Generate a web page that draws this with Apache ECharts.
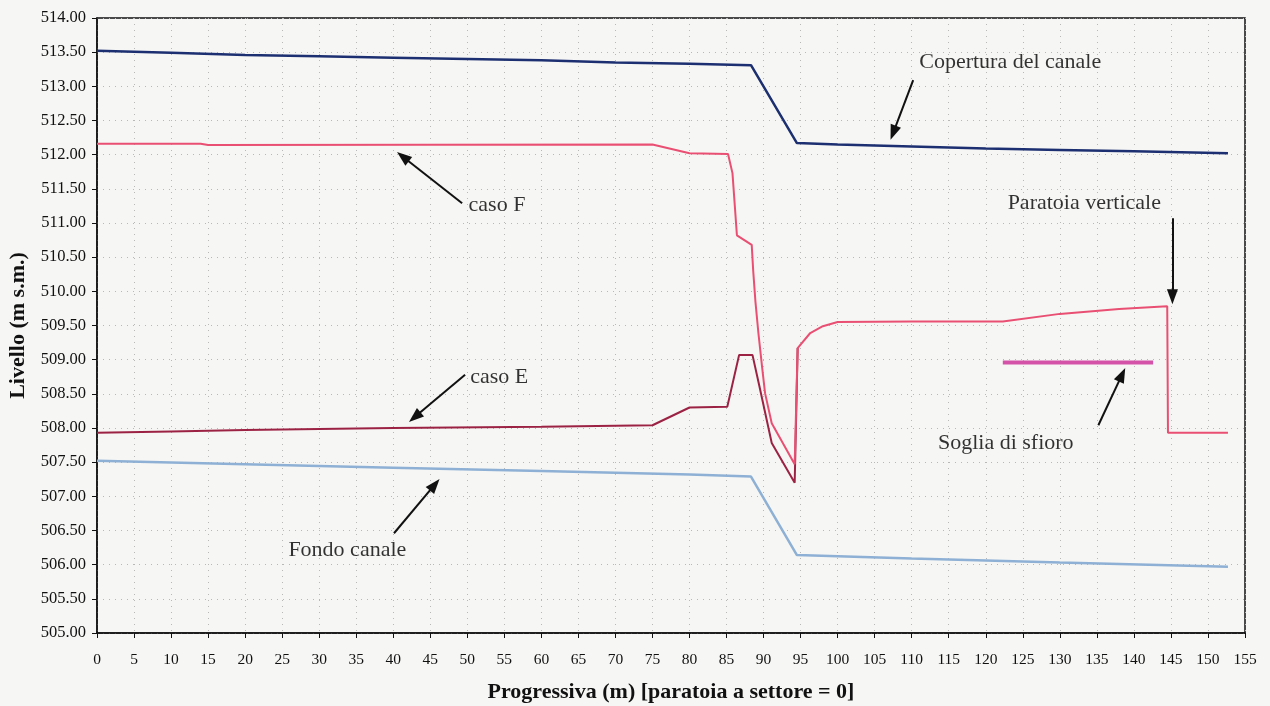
<!DOCTYPE html>
<html><head><meta charset="utf-8">
<script src="https://cdn.jsdelivr.net/npm/echarts@6/dist/echarts.min.js"></script>
<style>html,body{margin:0;padding:0;background:#f6f6f4}#c{width:1270px;height:706px}</style>
</head><body><div id="c"></div>
<script>
// Data (progressiva m, livello m s.m.)
const copertura = [[0,513.52],[10,513.49],[20,513.46],[30,513.44],[40,513.42],[50,513.40],[60,513.38],[70,513.35],[80,513.33],[88.3,513.31],[94.5,512.17],[100,512.15],[110,512.12],[120,512.09],[130,512.07],[140,512.05],[152.7,512.02]];
const casoF = [[0,512.16],[14,512.16],[15,512.14],[75,512.15],[80,512.02],[85.2,512.01],[85.8,511.73],[86.4,510.82],[88.4,510.68],[88.6,510.30],[88.9,509.85],[89.3,509.39],[89.8,508.89],[90.2,508.51],[91.1,508.07],[94.2,507.47],[94.6,509.17],[96.3,509.39],[98,509.49],[100,509.55],[110,509.56],[122.3,509.56],[130,509.67],[138,509.74],[144.5,509.78],[144.6,507.93],[152.7,507.93]];
const casoE = [[0,507.93],[10,507.95],[20,507.97],[40,508.00],[60,508.02],[75,508.04],[80,508.30],[85.1,508.31],[86.7,509.07],[88.5,509.07],[89.4,508.63],[91.1,507.78],[94.2,507.20],[94.6,509.17]];
const fondo = [[0,507.52],[20,507.47],[40,507.42],[60,507.37],[80,507.32],[88.3,507.29],[94.5,506.14],[110,506.09],[130,506.03],[152.7,505.97]];
const soglia = [[122.3,508.96],[142.6,508.96]];
const annotTexts = [
  {name:'Copertura del canale', value:[123.3,513.36]},
  {name:'caso F', value:[54.0,511.26]},
  {name:'caso E', value:[54.3,508.75]},
  {name:'Fondo canale', value:[33.8,506.21]},
  {name:'Paratoia verticale', value:[133.3,511.29]},
  {name:'Soglia di sfioro', value:[122.7,507.78]}
];
const annotArrows = [
  [[110.2,513.09],[107.5,512.32]],
  [[49.3,511.29],[41.3,511.97]],
  [[49.7,508.78],[42.9,508.16]],
  [[40.1,506.46],[45.6,507.17]],
  [[145.2,511.07],[145.2,509.92]],
  [[135.2,508.04],[138.4,508.78]]
];
const xTickInterval = 5, yTickInterval = 0.5;

const serif = '"Liberation Serif","Times New Roman",serif';
const chart = echarts.init(document.getElementById('c'), null, {renderer:'canvas'});
const lineS = (name, data, color, w) => ({
  type:'line', name, data, showSymbol:false, symbol:'none', silent:true,
  lineStyle:{color, width:w}, itemStyle:{color}, z:3
});
chart.setOption({
  backgroundColor:'#f6f6f4',
  animation:false,
  grid:{left:97, right:25, top:18, bottom:73, outerBoundsMode:'none', containLabel:false,
    show:true, borderColor:'#111', borderWidth:1.5, backgroundColor:'transparent'},
  xAxis:{
    type:'value', min:0, max:155, interval:xTickInterval,
    name:'Progressiva (m) [paratoia a settore = 0]', nameLocation:'middle', nameGap:48,
    nameTextStyle:{fontFamily:serif, fontSize:22, fontWeight:'bold', color:'#111'},
    axisLine:{show:true, onZero:false, lineStyle:{color:'#111', width:1.5}},
    axisTick:{show:true, length:5, lineStyle:{color:'#111'}},
    axisLabel:{fontFamily:serif, fontSize:15.5, color:'#111', margin:19},
    splitLine:{show:true, lineStyle:{color:'#b8b8b8', type:[1,5], width:1}}
  },
  yAxis:{
    type:'value', min:505, max:514, interval:yTickInterval,
    name:'Livello (m s.m.)', nameLocation:'middle', nameGap:60, nameRotate:90,
    nameTextStyle:{fontFamily:serif, fontSize:22, fontWeight:'bold', color:'#111'},
    axisLine:{show:true, onZero:false, lineStyle:{color:'#111', width:1.5}},
    axisTick:{show:true, length:5, lineStyle:{color:'#111'}},
    axisLabel:{fontFamily:serif, fontSize:16.5, color:'#111', margin:11, formatter:v=>v.toFixed(2)},
    splitLine:{show:true, lineStyle:{color:'#b8b8b8', type:[1,5], width:1}}
  },
  series:[
    lineS('Copertura del canale', copertura, '#1c2f70', 2.5),
    lineS('Fondo canale', fondo, '#8eb0d4', 2.5),
    lineS('caso E', casoE, '#9c2244', 2),
    lineS('caso F', casoF, '#e94f72', 2),
    lineS('Soglia di sfioro', soglia, '#d452a8', 4),
    {
      type:'scatter', name:'annotazioni', data:annotTexts, symbolSize:0, silent:true,
      label:{show:true, position:[0,0], align:'center', verticalAlign:'middle', formatter:'{b}',
        fontFamily:serif, fontSize:22, color:'#000'},
      markLine:{
        silent:true, symbol:['none','triangle'], symbolSize:[11,15], label:{show:false},
        lineStyle:{color:'#111', width:2, type:'solid'},
        itemStyle:{color:'#111'},
        emphasis:{disabled:true},
        data: annotArrows.map(a=>[{coord:a[0]},{coord:a[1]}])
      }, z:5
    }
  ]
});
</script></body></html>
